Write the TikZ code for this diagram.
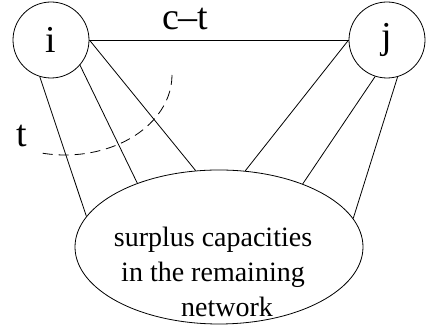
\documentclass[tikz,border=0pt]{standalone}
\usepackage{fontspec}
\setmainfont{Liberation Serif}
\usetikzlibrary{shapes.geometric}

\begin{document}
\begin{tikzpicture}[x=1pt,y=1pt,line width=0.8pt,
    vertex/.style={draw, circle, minimum size=76pt, inner sep=0pt, font=\fontsize{38}{44}\selectfont},
    lbl/.style={font=\fontsize{38}{44}\selectfont, inner sep=0pt}]
    \useasboundingbox (0,0) rectangle (426,328);

    %the two end nodes and the rest of the network
        \node[vertex] (i) at (51,288) {i};
        \node[vertex] (j) at (387,288) {j};
        \node[draw, ellipse, minimum width=288pt, minimum height=154pt] (net) at (219,81) {};
        \node[align=center, font=\fontsize{28}{35}\selectfont] (nettext) at ([xshift=-6pt,yshift=-25pt]net.center)
            {surplus capacities\\in the remaining\\\hspace*{28pt}network};

    %direct edge
        \draw (i.east) -- node[pos=0.37, above=10pt, lbl] (cost) {c--t} (j.west);

    %edges into the network
        \draw (i.253) -- (net.167);
        \draw (i.-41) -- (net.142);
        \draw (i.east) -- (net.107);
        \draw (j.west) -- (net.71);
        \draw (j.-108) -- (net.37);
        \draw (j.-74) -- (net.12);

    %cut
        \coordinate (cutstart) at (172,253);
        \draw[dash pattern=on 10pt off 6pt] (cutstart) arc[start angle=0, end angle=-104, x radius=107, y radius=80];
        \node[lbl, anchor=base] (t) at (22,181) {t};

\end{tikzpicture}
\end{document}
